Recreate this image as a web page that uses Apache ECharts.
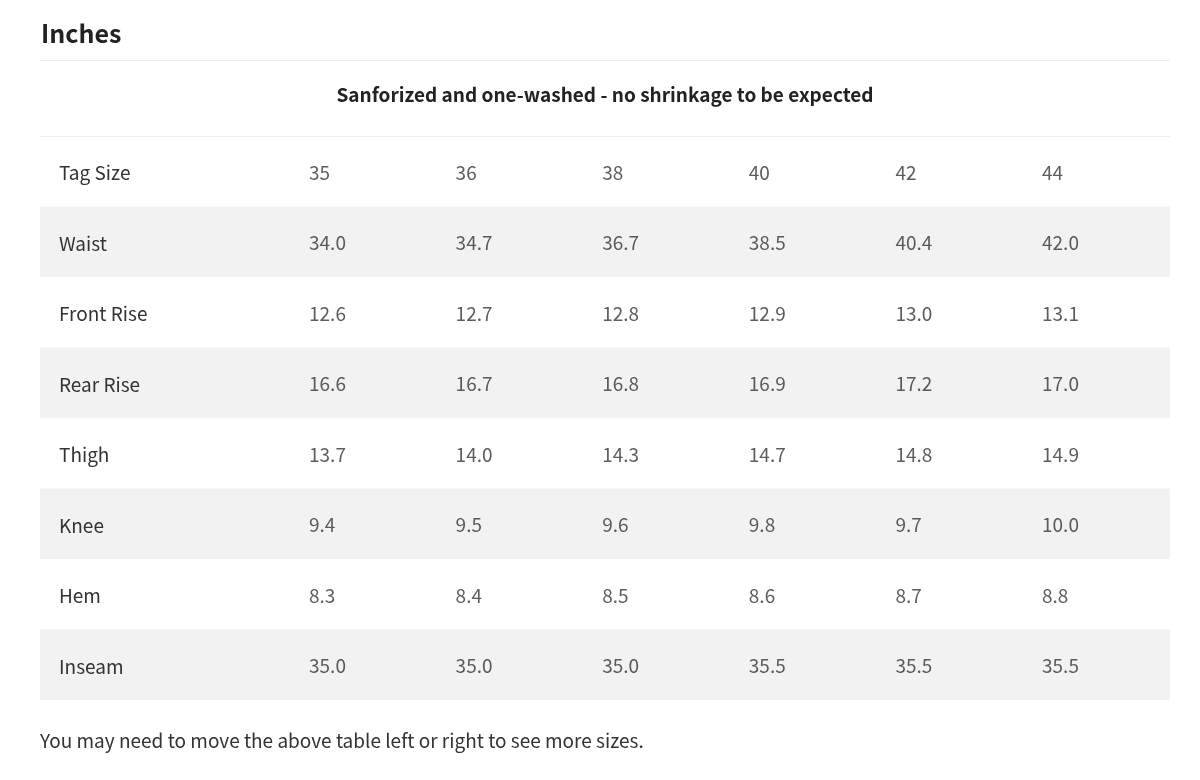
<!DOCTYPE html>
<html><head><meta charset="utf-8">
<script src="https://cdn.jsdelivr.net/npm/echarts@6/dist/echarts.min.js"></script>
<style>html,body{margin:0;padding:0;background:#fff}#c{width:1200px;height:780px}</style>
</head><body><div id="c"></div>
<script>
var titleText = 'Inches';
var subtitleText = 'Sanforized and one-washed - no shrinkage to be expected';
var footerText = 'You may need to move the above table left or right to see more sizes.';
var rowNames = ['Tag Size','Waist','Front Rise','Rear Rise','Thigh','Knee','Hem','Inseam'];
var tagSizes = [35, 36, 38, 40, 42, 44];
var waist = [34.0, 34.7, 36.7, 38.5, 40.4, 42.0];
var frontRise = [12.6, 12.7, 12.8, 12.9, 13.0, 13.1];
var rearRise = [16.6, 16.7, 16.8, 16.9, 17.2, 17.0];
var thigh = [13.7, 14.0, 14.3, 14.7, 14.8, 14.9];
var knee = [9.4, 9.5, 9.6, 9.8, 9.7, 10.0];
var hem = [8.3, 8.4, 8.5, 8.6, 8.7, 8.8];
var inseam = [35.0, 35.0, 35.0, 35.5, 35.5, 35.5];

var FONT = '"Noto Sans CJK SC", "Source Sans Pro", sans-serif';
var rows = [tagSizes, waist, frontRise, rearRise, thigh, knee, hem, inseam];
var cells = [];
rows.forEach(function (vals, r) {
  vals.forEach(function (v, i) {
    cells.push([i, rowNames[r], r === 0 ? String(v) : v.toFixed(1)]);
  });
});

var chart = echarts.init(document.getElementById('c'), null, {renderer: 'canvas'});
chart.setOption({
  backgroundColor: '#ffffff',
  animation: false,
  grid: {left: 40, right: 30, top: 136, bottom: 80, containLabel: false},
  xAxis: {
    type: 'value', position: 'top', min: -1.835, max: 5.873,
    axisLine: {show: true, lineStyle: {color: '#ececec', width: 1}},
    axisTick: {show: false}, axisLabel: {show: false}, splitLine: {show: false}
  },
  yAxis: {
    type: 'category', data: rowNames, inverse: true,
    axisLine: {show: false}, axisTick: {show: false}, splitLine: {show: false},
    splitArea: {show: true, areaStyle: {color: ['#ffffff', '#f2f2f2']}},
    axisLabel: {inside: true, margin: 19, align: 'left', verticalAlign: 'middle', color: '#333333', fontSize: 19, fontFamily: FONT,
      formatter: function (v) { return '{a|' + v + '}'; },
      rich: {a: {fontSize: 19, fontFamily: FONT, color: '#333333', padding: [4, 0, 0, 0]}}}
  },
  series: [{
    type: 'scatter', data: cells, symbolSize: 0, silent: true,
    label: {
      show: true, position: 'inside', align: 'left', verticalAlign: 'middle', offset: [0, 1.5],
      color: '#333333', fontSize: 19, fontFamily: FONT,
      formatter: function (p) { return p.value[2]; }
    }
  }],
  graphic: [
    {type: 'text', x: 41, y: 33, style: {text: titleText, fill: '#222222', font: 'bold 25px ' + FONT, textAlign: 'left', textVerticalAlign: 'middle'}},
    {type: 'line', shape: {x1: 40, y1: 60.5, x2: 1170, y2: 60.5}, style: {stroke: '#ececec', lineWidth: 1}},
    {type: 'text', x: 605, y: 95, style: {text: subtitleText, fill: '#222222', font: 'bold 19px ' + FONT, textAlign: 'center', textVerticalAlign: 'middle'}},
    {type: 'text', x: 40, y: 741, style: {text: footerText, fill: '#333333', font: '19px ' + FONT, textAlign: 'left', textVerticalAlign: 'middle'}}
  ]
});
</script></body></html>
